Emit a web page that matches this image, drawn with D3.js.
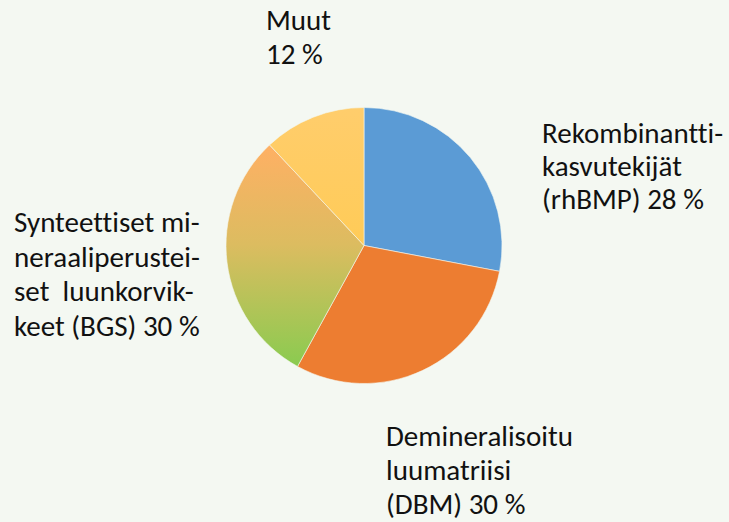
<!DOCTYPE html>
<html>
<head>
<meta charset="utf-8">
<script src="https://cdn.jsdelivr.net/npm/d3@7"></script>
<style>
  html, body { margin: 0; padding: 0; background: #f4f8f2; }
  svg { display: block; }
  .lbl { font-family: Carlito, "Open Sans", "Noto Sans", sans-serif; fill: #111;
         font-variant-ligatures: none; font-feature-settings: "liga" 0, "clig" 0; }
</style>
</head>
<body>
<div id="chart"></div>
<script>
// slice names and shares, clockwise from 12 o'clock
const categories = ["Rekombinanttikasvutekijät (rhBMP)", "Demineralisoitu luumatriisi (DBM)",
                    "Synteettiset mineraaliperusteiset luunkorvikkeet (BGS)", "Muut"];
const values = [28, 30, 30, 12];
// label text, already hyphenated like the original
const labelLines = [
  ["Rekombinantti-", "kasvutekijät", "(rhBMP) 28 %"],
  ["Demineralisoitu", "luumatriisi", "(DBM) 30 %"],
  ["Synteettiset mi-", "neraaliperustei-", "set  luunkorvik-", "keet (BGS) 30 %"],
  ["Muut", "12 %"]
];

const width = 729, height = 522;
const cx = 364, cy = 245.5, r = 138;

const svg = d3.select("#chart").append("svg")
  .attr("width", width)
  .attr("height", height);

svg.append("rect").attr("width", width).attr("height", height).attr("fill", "#f4f8f2");

const defs = svg.append("defs");
const gSyn = defs.append("linearGradient").attr("id", "gSyn")
  .attr("x1", 0).attr("y1", 0).attr("x2", 0).attr("y2", 1);
gSyn.append("stop").attr("offset", "0%").attr("stop-color", "#ffb064");
gSyn.append("stop").attr("offset", "45%").attr("stop-color", "#dcbc60");
gSyn.append("stop").attr("offset", "100%").attr("stop-color", "#8acb50");
const gMuut = defs.append("linearGradient").attr("id", "gMuut")
  .attr("x1", 0).attr("y1", 0).attr("x2", 0).attr("y2", 1);
gMuut.append("stop").attr("offset", "0%").attr("stop-color", "#ffcd6c");
gMuut.append("stop").attr("offset", "100%").attr("stop-color", "#ffcb57");

const fills = ["#5b9bd5", "#ed7d31", "url(#gSyn)", "url(#gMuut)"];

const pie = d3.pie().sort(null).value(d => d);
const arc = d3.arc().innerRadius(0).outerRadius(r);

svg.append("g")
  .attr("transform", `translate(${cx},${cy})`)
  .selectAll("path")
  .data(pie(values))
  .join("path")
  .attr("d", arc)
  .attr("fill", (d, i) => fills[i])
  .attr("stroke", "#f4f8f2")
  .attr("stroke-width", 0.6);

// label blocks: left x and first baseline, line step
const labelPos = [
  { x: 542, y: 143, step: 33 },
  { x: 386, y: 446, step: 34 },
  { x: 14, y: 232, step: 34.7 },
  { x: 266, y: 29.5, step: 34.5 }
];

// fit font size so "Demineralisoitu" is about as wide as in the original
const probe = svg.append("text").attr("class", "lbl").style("font-size", "27px").text("Demineralisoitu");
const w27 = probe.node().getComputedTextLength();
probe.remove();
const fs = 27 * 187 / w27;

labelLines.forEach((lines, i) => {
  const p = labelPos[i];
  const t = svg.append("text").attr("class", "lbl").style("font-size", fs + "px");
  lines.forEach((ln, j) => {
    t.append("tspan").attr("x", p.x).attr("y", p.y + j * p.step)
      .attr("xml:space", "preserve").text(ln);
  });
});
</script>
</body>
</html>
